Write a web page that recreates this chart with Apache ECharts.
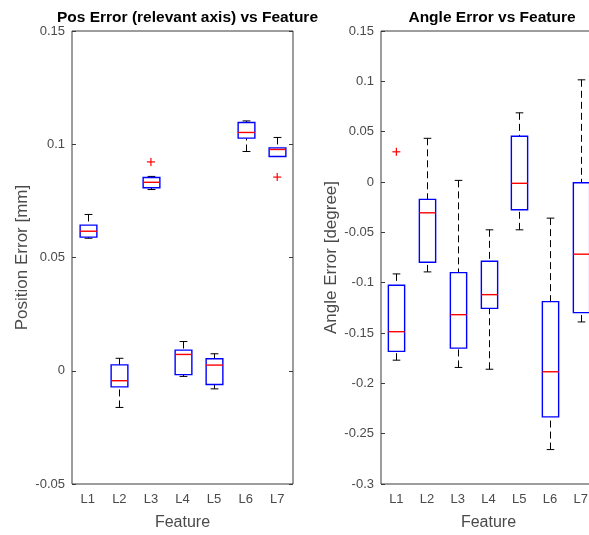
<!DOCTYPE html>
<html><head><meta charset="utf-8">
<script src="https://cdn.jsdelivr.net/npm/echarts@6/dist/echarts.min.js"></script>
<style>html,body{margin:0;padding:0;background:#fff}#c{width:589px;height:535px}</style>
</head><body><div id="c"></div>
<script>
const categories = ['L1','L2','L3','L4','L5','L6','L7'];
// each box: [whiskerLow, q1, median, q3, whiskerHigh]
const posBoxes = [
  [0.0585, 0.0590, 0.0616, 0.0643, 0.0690],
  [-0.0162, -0.0071, -0.0044, 0.0026, 0.0055],
  [0.0800, 0.0808, 0.0832, 0.0853, 0.0858],
  [-0.0025, -0.0017, 0.0072, 0.0091, 0.0129],
  [-0.0080, -0.0061, 0.0025, 0.0053, 0.0075],
  [0.0968, 0.1027, 0.1052, 0.1096, 0.1103],
  [0.0946, 0.0946, 0.0977, 0.0984, 0.1030]
];
const posOutliers = [[2, 0.0922], [6, 0.0855]];
const angleBoxes = [
  [-0.177, -0.1683, -0.1487, -0.1026, -0.0913],
  [-0.0893, -0.0797, -0.0306, -0.0173, 0.0434],
  [-0.1842, -0.165, -0.1318, -0.090, 0.0016],
  [-0.186, -0.1255, -0.1119, -0.0787, -0.0475],
  [-0.0475, -0.0275, -0.0013, 0.0455, 0.0687],
  [-0.2658, -0.2333, -0.1885, -0.1188, -0.0359],
  [-0.139, -0.1298, -0.0717, -0.0007, 0.1015]
];
const angleOutliers = [[0, 0.030]];
const posTitle = 'Pos Error (relevant axis) vs Feature';
const angleTitle = 'Angle Error vs Feature';
const posYName = 'Position Error [mm]';
const angleYName = 'Angle Error [degree]';
const xName = 'Feature';

const axisColor = '#3a3a3a';
const labelColor = '#4a4a4a';
const fontFamily = 'Liberation Sans, Arial, sans-serif';

function renderBox(params, api) {
  const i = api.value(0);
  const lo = api.coord([i, api.value(1)]);
  const q1 = api.coord([i, api.value(2)]);
  const md = api.coord([i, api.value(3)]);
  const q3 = api.coord([i, api.value(4)]);
  const hi = api.coord([i, api.value(5)]);
  const band = api.size([1, 0])[0];
  const bw = band * 0.53, cw = bw * 0.47;
  const x = Math.round(lo[0]) + 0.5;
  const dash = {stroke: '#000', lineWidth: 1, lineDash: [7, 4]};
  const solid = {stroke: '#000', lineWidth: 1};
  return {
    type: 'group',
    children: [
      {type: 'line', shape: {x1: x, y1: hi[1], x2: x, y2: q3[1]}, style: dash},
      {type: 'line', shape: {x1: x, y1: lo[1], x2: x, y2: q1[1]}, style: dash},
      {type: 'line', shape: {x1: x - cw / 2, y1: hi[1], x2: x + cw / 2, y2: hi[1]}, style: solid},
      {type: 'line', shape: {x1: x - cw / 2, y1: lo[1], x2: x + cw / 2, y2: lo[1]}, style: solid},
      {type: 'rect', shape: {x: x - bw / 2, y: q3[1], width: bw, height: q1[1] - q3[1]},
        style: {fill: 'none', stroke: '#0000ff', lineWidth: 1.4}},
      {type: 'line', shape: {x1: x - bw / 2, y1: md[1], x2: x + bw / 2, y2: md[1]},
        style: {stroke: '#ff0000', lineWidth: 1.4}}
    ]
  };
}
function renderPlus(params, api) {
  const p = api.coord([api.value(0), api.value(1)]);
  const s = 4;
  const st = {stroke: '#ff0000', lineWidth: 1.2};
  return {type: 'group', children: [
    {type: 'line', shape: {x1: p[0] - s, y1: p[1], x2: p[0] + s, y2: p[1]}, style: st},
    {type: 'line', shape: {x1: p[0], y1: p[1] - s, x2: p[0], y2: p[1] + s}, style: st}
  ]};
}

function xAxes(grid) {
  return [
    {type: 'category', gridIndex: grid, data: categories, position: 'bottom',
      name: xName, nameLocation: 'middle', nameGap: 31,
      nameTextStyle: {color: labelColor, fontSize: 16, fontFamily},
      axisLine: {show: false}, splitLine: {show: false},
      axisTick: {inside: true, alignWithLabel: true, length: 4, lineStyle: {color: axisColor}},
      axisLabel: {color: labelColor, fontSize: 13, margin: 9, fontFamily}},
    {type: 'category', gridIndex: grid, data: categories, position: 'top',
      axisLine: {show: false}, splitLine: {show: false},
      axisTick: {inside: true, alignWithLabel: true, length: 4, lineStyle: {color: axisColor}},
      axisLabel: {show: false}}
  ];
}
function yAxes(grid, min, max, name) {
  const fmt = v => String(+v.toFixed(4));
  return [
    {type: 'value', gridIndex: grid, min, max, interval: 0.05, position: 'left',
      name, nameLocation: 'middle', nameGap: 41,
      nameTextStyle: {color: labelColor, fontSize: 17, fontFamily},
      axisLine: {show: false}, splitLine: {show: false},
      axisTick: {show: true, inside: true, length: 4, lineStyle: {color: axisColor}},
      axisLabel: {color: labelColor, fontSize: 13, margin: 7, fontFamily, formatter: fmt}},
    {type: 'value', gridIndex: grid, min, max, interval: 0.05, position: 'right',
      axisLine: {show: false}, splitLine: {show: false},
      axisTick: {show: true, inside: true, length: 4, lineStyle: {color: axisColor}},
      axisLabel: {show: false}}
  ];
}

const chart = echarts.init(document.getElementById('c'), null, {renderer: 'canvas'});
chart.setOption({
  animation: false,
  backgroundColor: '#fff',
  title: [
    {text: posTitle, left: 182.5, top: 5, textAlign: 'center',
      textStyle: {fontSize: 15.5, fontWeight: 'bold', color: '#000', fontFamily}},
    {text: angleTitle, left: 487, top: 5, textAlign: 'center',
      textStyle: {fontSize: 15.5, fontWeight: 'bold', color: '#000', fontFamily}}
  ],
  grid: [
    {left: 72, width: 221, top: 31, bottom: 51, show: true, borderColor: axisColor, borderWidth: 1,
      backgroundColor: 'transparent', outerBoundsMode: 'none', containLabel: false},
    {left: 381, width: 215, top: 31, bottom: 51, show: true, borderColor: axisColor, borderWidth: 1,
      backgroundColor: 'transparent', outerBoundsMode: 'none', containLabel: false}
  ],
  xAxis: [...xAxes(0), ...xAxes(1)],
  yAxis: [...yAxes(0, -0.05, 0.15, posYName), ...yAxes(1, -0.3, 0.15, angleYName)],
  series: [
    {type: 'custom', xAxisIndex: 0, yAxisIndex: 0, renderItem: renderBox,
      encode: {x: 0, y: [1, 2, 3, 4, 5]}, data: posBoxes.map((b, i) => [i, ...b])},
    {type: 'custom', xAxisIndex: 0, yAxisIndex: 0, renderItem: renderPlus,
      encode: {x: 0, y: 1}, data: posOutliers},
    {type: 'custom', xAxisIndex: 2, yAxisIndex: 2, renderItem: renderBox,
      encode: {x: 0, y: [1, 2, 3, 4, 5]}, data: angleBoxes.map((b, i) => [i, ...b])},
    {type: 'custom', xAxisIndex: 2, yAxisIndex: 2, renderItem: renderPlus,
      encode: {x: 0, y: 1}, data: angleOutliers}
  ]
});
</script>
</body></html>
